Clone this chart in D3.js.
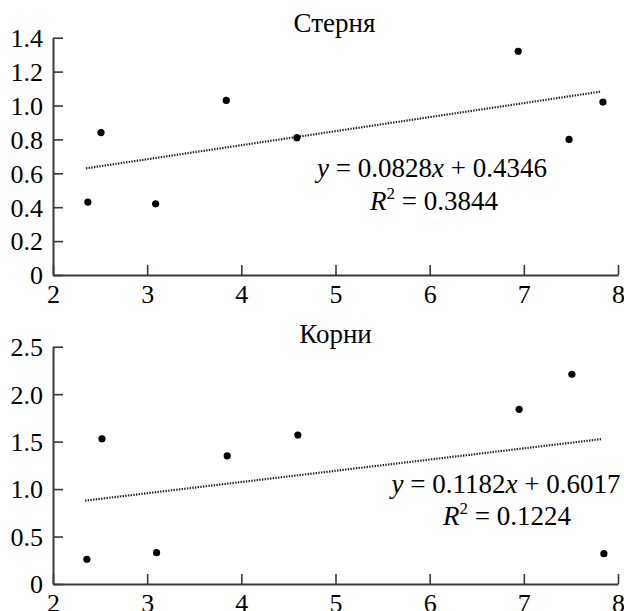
<!DOCTYPE html>
<html><head><meta charset="utf-8">
<script src="https://cdn.jsdelivr.net/npm/d3@7"></script>
<style>
@font-face { font-family: "ChartSerif"; src: local("Liberation Serif"), local("LiberationSerif"), local("Tinos"), local("Times New Roman"); font-style: normal; }
@font-face { font-family: "ChartSerif"; src: local("Liberation Serif Italic"), local("LiberationSerif-Italic"), local("Tinos Italic"), local("Times New Roman Italic"); font-style: italic; }
</style>
</head>
<body style="margin:0"><svg id="c" width="624" height="611"></svg>
<script>
// Data
const xTicks = [2,3,4,5,6,7,8];
const stubbleX = [2.37, 2.51, 3.09, 3.84, 4.59, 6.94, 7.48, 7.84];
const stubbleY = [0.43, 0.84, 0.42, 1.03, 0.81, 1.32, 0.80, 1.02];
const rootsX   = [2.36, 2.52, 3.10, 3.85, 4.60, 6.95, 7.51, 7.85];
const rootsY   = [0.26, 1.53, 0.33, 1.35, 1.57, 1.84, 2.21, 0.32];
const stubbleTicks = [0,0.2,0.4,0.6,0.8,1.0,1.2,1.4];
const rootsTicks = [0,0.5,1.0,1.5,2.0,2.5];
const titles = ["Стерня","Корни"];
const slopes = [0.0828, 0.1182];
const intercepts = [0.4346, 0.6017];
const r2 = ["0.3844","0.1224"];

const FONT = '"Liberation Serif", "Times New Roman", Tinos, ChartSerif, serif';
const svg = d3.select("#c");
const fsTick = 26, fsText = 27;
const axisColor = "#3a3a3a";

function panel(cfg){
  const x = d3.scaleLinear().domain([2,8]).range([53,618]);
  const y = d3.scaleLinear().domain([0,cfg.ymax]).range([cfg.y0,cfg.y1]);
  const xa = svg.append("g").attr("transform",`translate(0,${cfg.y0})`)
    .call(d3.axisBottom(x).tickValues(xTicks).tickSizeInner(-10).tickSizeOuter(0).tickPadding(0).tickFormat(d3.format("d")));
  const ya = svg.append("g").attr("transform",`translate(53,0)`)
    .call(d3.axisLeft(y).tickValues(cfg.ticks).tickSizeInner(-10).tickSizeOuter(0).tickPadding(10)
      .tickFormat(d => d===0 ? "0" : d3.format(".1f")(d)));
  [xa,ya].forEach(a=>{
    a.attr("font-family","Liberation Serif");
    a.select(".domain").attr("stroke",axisColor).attr("stroke-width",2);
    a.selectAll(".tick line").attr("stroke",axisColor).attr("stroke-width",1.6);
    a.selectAll(".tick text").attr("font-size",fsTick).style("font-family",FONT);
  });
  xa.selectAll(".tick text").attr("y",28).attr("dy",null);
  ya.selectAll(".tick text").attr("dy","0.34em");
  // trendline over the data range
  const xmin = d3.min(cfg.xs), xmax = d3.max(cfg.xs);
  const lx0 = xmin - 0.02, lx1 = xmax - 0.03;
  svg.append("line")
    .attr("x1",x(lx0)).attr("y1",y(cfg.slope*lx0+cfg.icpt))
    .attr("x2",x(lx1)).attr("y2",y(cfg.slope*lx1+cfg.icpt))
    .attr("stroke","#222").attr("stroke-width",2.2).attr("stroke-dasharray","1.4,1.3");
  // points
  svg.append("g").selectAll("circle").data(cfg.xs.map((v,i)=>[v,cfg.ys[i]])).join("circle")
    .attr("cx",d=>x(d[0])).attr("cy",d=>y(d[1])).attr("r",3.6);
  // title
  svg.append("text").attr("x",cfg.tx).attr("y",cfg.ty).attr("text-anchor","middle")
    .attr("font-size",fsText).style("font-family",FONT).text(cfg.title);
  // equation
  const eq = svg.append("text").attr("x",cfg.ex).attr("y",cfg.ey).attr("text-anchor","middle")
    .attr("font-size",fsText).style("font-family",FONT);
  eq.append("tspan").style("font-style","italic").text("y");
  eq.append("tspan").text(" = " + cfg.slope.toFixed(4));
  eq.append("tspan").style("font-style","italic").text("x");
  eq.append("tspan").text(" + " + cfg.icpt.toFixed(4));
  const rr = svg.append("text").attr("x",cfg.rx).attr("y",cfg.ry).attr("text-anchor","middle")
    .attr("font-size",fsText).style("font-family",FONT);
  rr.append("tspan").style("font-style","italic").text("R");
  rr.append("tspan").attr("font-size",17).attr("dy",-11).text("2");
  rr.append("tspan").attr("dy",11).text(" = " + cfg.r2);
}

panel({ymax:1.4, y0:275, y1:37.7, ticks:stubbleTicks, xs:stubbleX, ys:stubbleY,
  slope:slopes[0], icpt:intercepts[0], title:titles[0], tx:334.5, ty:32,
  ex:432, ey:177, rx:434, ry:210, r2:r2[0]});
panel({ymax:2.5, y0:584, y1:346.7, ticks:rootsTicks, xs:rootsX, ys:rootsY,
  slope:slopes[1], icpt:intercepts[1], title:titles[1], tx:335.5, ty:343,
  ex:506, ey:493, rx:507, ry:525, r2:r2[1]});
</script></body></html>
